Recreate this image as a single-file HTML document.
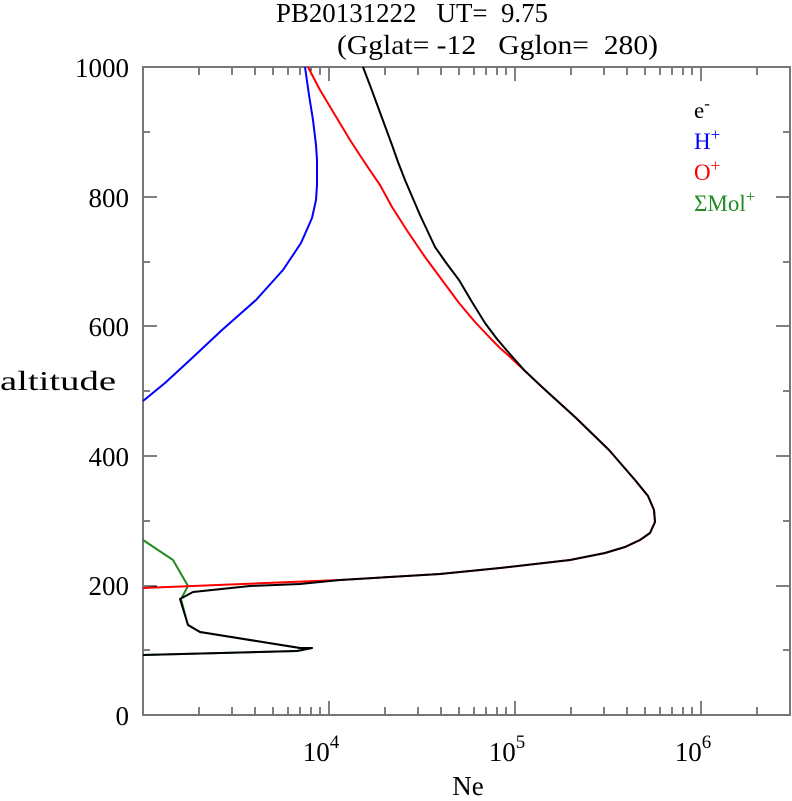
<!DOCTYPE html>
<html><head><style>
body{margin:0;background:#fff;}
svg text{font-family:"Liberation Serif",serif;}
</style></head><body>
<svg width="792" height="796" xmlns="http://www.w3.org/2000/svg">
<text x="276" y="22" font-size="27" textLength="272" lengthAdjust="spacingAndGlyphs" xml:space="preserve">PB20131222   UT=  9.75</text>
<text x="337" y="54" font-size="27" textLength="321" lengthAdjust="spacingAndGlyphs" xml:space="preserve">(Gglat= -12   Gglon=  280)</text>
<g font-size="27" text-anchor="end">
<text x="129" y="77">1000</text>
<text x="129" y="207">800</text>
<text x="129" y="336">600</text>
<text x="129" y="466">400</text>
<text x="129" y="595">200</text>
<text x="129" y="725">0</text>
</g>
<text x="0" y="390" font-size="27" textLength="116" lengthAdjust="spacingAndGlyphs">altitude</text>
<g font-size="27" text-anchor="middle">
<text x="321" y="761">10<tspan font-size="19" dy="-13">4</tspan></text>
<text x="507" y="761">10<tspan font-size="19" dy="-13">5</tspan></text>
<text x="693" y="761">10<tspan font-size="19" dy="-13">6</tspan></text>
<text x="468" y="795">Ne</text>
</g>
<g stroke="#000" stroke-width="1"><path d="M199,715v-8M232,715v-8M255,715v-8M273,715v-8M288,715v-8M300,715v-8M311,715v-8M320,715v-8M329,715v-14M385,715v-8M418,715v-8M441,715v-8M459,715v-8M474,715v-8M486,715v-8M497,715v-8M506,715v-8M515,715v-14M571,715v-8M604,715v-8M627,715v-8M645,715v-8M660,715v-8M672,715v-8M683,715v-8M692,715v-8M701,715v-14M757,715v-8
M199,67v8M232,67v8M255,67v8M273,67v8M288,67v8M300,67v8M311,67v8M320,67v8M329,67v14M385,67v8M418,67v8M441,67v8M459,67v8M474,67v8M486,67v8M497,67v8M506,67v8M515,67v14M571,67v8M604,67v8M627,67v8M645,67v8M660,67v8M672,67v8M683,67v8M692,67v8M701,67v14M757,67v8
M143,650h7M143,586h14M143,521h7M143,456h14M143,391h7M143,326h14M143,262h7M143,197h14M143,132h7
M790,650h-7M790,586h-14M790,521h-7M790,456h-14M790,391h-7M790,326h-14M790,262h-7M790,197h-14M790,132h-7"/></g>
<rect x="143" y="67" width="647" height="648" fill="none" stroke="#777" stroke-width="2"/>
<g fill="none" stroke-width="2" stroke-linejoin="round">
<polyline stroke="#00f" points="305,67 309,95 313,120 316,145 317,160 317,185 316,200 312,218 301,243 283,270 256,300 222,330 190,360 165,383 143,401"/>
<polyline stroke="#228b22" points="143,540 173,560 188,586 181,599 186,618 188,625 200,632 300,648 312,648 297,651 143,655"/>
<polyline stroke="#f00" points="308,67 320,90 335,115 350,140 365,163 380,185 392,207 408,232 425,257 442,280 459,303 475,322 492,340 500,348 509,356 525,371 542,387 575,417 609,450 635,480 648,496 654,510 655,522 650,533 640,540 625,547 605,553 570,560 500,568 440,574 340,580 143,588"/>
<polyline stroke="#000" points="363,67 371,88 378,107 385,126 392,145 398,162 405,180 420,215 435,247 447,264 459,280 472,302 485,323 497,339 509,353 525,371 542,387 575,417 609,450 635,480 648,496 654,510 655,522 650,533 640,540 625,547 605,553 570,560 500,568 440,574 340,580 300,584 250,586 193,592 180,599 188,625 200,632 300,648 312,648 297,651 143,655"/>
</g>
<g font-size="23">
<text x="694" y="118">e<tspan font-size="17" dy="-9">-</tspan></text>
<text x="694" y="149" fill="#00f">H<tspan font-size="17" dy="-9">+</tspan></text>
<text x="694" y="180" fill="#f00">O<tspan font-size="17" dy="-9">+</tspan></text>
<text x="694" y="211" fill="#228b22">ΣMol<tspan font-size="17" dy="-9">+</tspan></text>
</g>
</svg>
</body></html>
